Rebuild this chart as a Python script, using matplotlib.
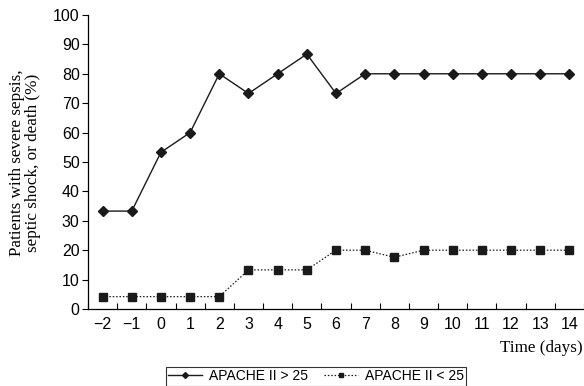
import numpy as np
import matplotlib.pyplot as plt

# data
days = [-2, -1, 0, 1, 2, 3, 4, 5, 6, 7, 8, 9, 10, 11, 12, 13, 14]
apache_high = [33.3, 33.3, 53.3, 60, 80, 73.3, 80, 86.7, 73.3, 80, 80, 80, 80, 80, 80, 80, 80]
apache_low = [4.2, 4.2, 4.2, 4.2, 4.2, 13.3, 13.3, 13.3, 20, 20, 17.6, 20, 20, 20, 20, 20, 20]
day_labels = ['\u22122', '\u22121'] + [str(d) for d in days[2:]]

fig = plt.figure(figsize=(5.84, 3.86), dpi=100)
ax = fig.add_axes([0.1507, 0.1995, 0.8493, 0.7617])

ax.plot(days, apache_high, color='#1a1a1a', lw=1.0, marker='D', ms=5,
        label='APACHE II > 25')
ax.plot(days, apache_low, color='#1a1a1a', lw=0.9, ls=(0, (1.2, 1.5)), marker='s', ms=5.5,
        label='APACHE II < 25')

ax.set_xlim(-2.5, 14.5)
ax.set_ylim(0, 100)
ax.set_yticks(range(0, 101, 10))
ax.set_xticks(days)
ax.set_xticklabels(day_labels)
# tick marks sit between categories
ax.set_xticks(np.arange(-2.5, 14.6, 1), minor=True)
ax.tick_params(axis='x', which='major', length=0, pad=6)
ax.tick_params(axis='x', which='minor', length=4, direction='in', width=0.8)
ax.tick_params(axis='y', length=4, width=0.8, pad=2)
for lab in ax.get_xticklabels() + ax.get_yticklabels():
    lab.set_fontfamily('Liberation Sans')
    lab.set_fontsize(11.5)

for s in ['top', 'right']:
    ax.spines[s].set_visible(False)
for s in ['left', 'bottom']:
    ax.spines[s].set_linewidth(0.9)

fig.text(0.043, 0.579, 'Patients with severe sepsis,\nseptic shock, or death (%)',
         rotation=90, ha='center', va='center', family='Liberation Serif',
         fontsize=12.3, linespacing=1.05)
fig.text(0.998, 0.098, 'Time (days)', ha='right', va='center',
         family='Liberation Serif', fontsize=12.3)

leg = fig.legend(loc='center', bbox_to_anchor=(0.541, 0.025), ncol=2,
                 frameon=True, fancybox=False, edgecolor='black',
                 prop={'family': 'Liberation Sans', 'size': 10},
                 handlelength=2.4, handletextpad=0.5, columnspacing=1.2,
                 borderpad=0.2, markerscale=0.6)
leg.get_frame().set_linewidth(0.8)

fig.savefig('out.png', dpi=100)
